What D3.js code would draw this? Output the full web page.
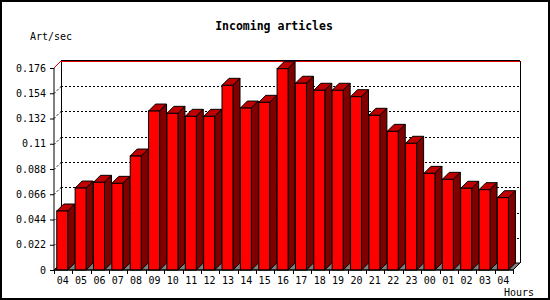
<!DOCTYPE html>
<html>
<head>
<meta charset="utf-8">
<script src="https://cdn.jsdelivr.net/npm/d3@7"></script>
<style>
  body { margin: 0; background: #fff; }
  text { font-family: "DejaVu Sans Mono", monospace; fill: #000; }
</style>
</head>
<body>
<div id="chart"></div>
<script>
// hours shown on the x axis
var hours = ["04","05","06","07","08","09","10","11","12","13","14","15","16",
             "17","18","19","20","21","22","23","00","01","02","03","04"];
// articles per second
var rates = [0.0514, 0.0714, 0.0764, 0.0755, 0.0993, 0.1385, 0.1365, 0.1339, 0.1339,
             0.1609, 0.1411, 0.1461, 0.1754, 0.1627, 0.1566, 0.1566, 0.1510, 0.1348,
             0.1208, 0.1104, 0.0842, 0.0790, 0.0712, 0.0700, 0.0630];
var yTicks = [0, 0.022, 0.044, 0.066, 0.088, 0.11, 0.132, 0.154, 0.176];

var width = 550, height = 300;
var margin = {left: 54, right: 37, top: 68, bottom: 30};
var depth = 7;

var data = hours.map(function(h, i) { return {key: i, label: h, value: rates[i]}; });

var svg = d3.select("#chart").append("svg")
    .attr("width", width)
    .attr("height", height);

// outer frame
svg.append("rect")
    .attr("x", 1).attr("y", 1)
    .attr("width", width - 2).attr("height", height - 2)
    .attr("fill", "#fff").attr("stroke", "#000").attr("stroke-width", 2);

var x = d3.scaleBand()
    .domain(data.map(function(d) { return d.key; }))
    .range([margin.left, width - margin.right]);

var y = d3.scaleLinear()
    .domain([0, 0.176])
    .range([height - margin.bottom, margin.top]);

var x0 = x.range()[0], x1 = x.range()[1], y0 = y(0), yTop = y(0.176);

// back wall edges
svg.append("path")
    .attr("d", "M" + (x0 + depth + 0.5) + "," + (y0 - depth) + "V" + (yTop - depth) +
               "M" + (x1 + depth + 0.5) + "," + (yTop - depth) + "V" + (y0 - depth))
    .attr("stroke", "#000").attr("fill", "none");

// dotted grid on the back wall and left wall
var grid = svg.append("g")
    .attr("stroke", "#000")
    .attr("stroke-dasharray", "2,2")
    .attr("fill", "none");
yTicks.slice(1, -1).forEach(function(t) {
  var yy = Math.round(y(t)) - depth + 0.5;
  grid.append("line")
      .attr("x1", x0 + depth).attr("x2", x1 + depth)
      .attr("y1", yy).attr("y2", yy);
  grid.append("line")
      .attr("x1", x0).attr("x2", x0 + depth)
      .attr("y1", yy + depth).attr("y2", yy);
});

// top line
svg.append("line")
    .attr("x1", x0 + depth).attr("x2", x1 + depth)
    .attr("y1", yTop - depth - 0.5).attr("y2", yTop - depth - 0.5)
    .attr("stroke", "#000");
svg.append("line")
    .attr("x1", x0 + depth).attr("x2", x1 + depth)
    .attr("y1", yTop - depth + 0.5).attr("y2", yTop - depth + 0.5)
    .attr("stroke", "#e00000");
svg.append("line")
    .attr("x1", x0).attr("x2", x0 + depth)
    .attr("y1", yTop).attr("y2", yTop - depth)
    .attr("stroke", "#e00000");

// floor
svg.append("path")
    .attr("d", "M" + x0 + "," + y0 + "L" + x1 + "," + y0 + "L" + (x1 + depth) + "," + (y0 - depth) +
               "L" + (x0 + depth) + "," + (y0 - depth) + "Z")
    .attr("fill", "#808080").attr("stroke", "#000");

// bars
var bw = x.bandwidth() * 0.6;
var bars = svg.append("g").selectAll("g")
    .data(data)
  .enter().append("g");

function bx(d) { return x(d.key) + x.bandwidth() * 0.15; }

bars.append("path") // top
    .attr("d", function(d) {
      var l = bx(d), t = y(d.value);
      return "M" + l + "," + t + "L" + (l + depth) + "," + (t - depth) +
             "L" + (l + bw + depth) + "," + (t - depth) + "L" + (l + bw) + "," + t + "Z";
    })
    .attr("fill", "#c00000").attr("stroke", "#000");

bars.append("path") // side
    .attr("d", function(d) {
      var r = bx(d) + bw, t = y(d.value);
      return "M" + r + "," + t + "L" + (r + depth) + "," + (t - depth) +
             "L" + (r + depth) + "," + (y0 - depth) + "L" + r + "," + y0 + "Z";
    })
    .attr("fill", "#800000").attr("stroke", "#000");

bars.append("rect") // front
    .attr("x", bx)
    .attr("y", function(d) { return y(d.value); })
    .attr("width", bw)
    .attr("height", function(d) { return y0 - y(d.value); })
    .attr("fill", "#ff0000").attr("stroke", "#000");

// Y axis
svg.append("g")
    .attr("transform", "translate(" + x0 + ",0)")
    .call(d3.axisLeft(y).tickValues(yTicks).tickSize(4).tickPadding(4)
            .tickFormat(function(d) { return d === 0 ? "0" : String(d); }))
    .call(function(g) {
      g.select(".domain").attr("d", "M0," + y0 + "V" + yTop);
      g.selectAll("text").attr("font-size", 10).attr("font-family", "DejaVu Sans Mono");
    });

// X axis
svg.append("g")
    .attr("transform", "translate(0," + y0 + ")")
    .call(function(g) {
      g.append("line").attr("x1", x0).attr("x2", x1).attr("stroke", "#000");
      var edges = data.map(function(d) { return x(d.key); }).concat([x1]);
      g.selectAll(".tk").data(edges).enter().append("line")
          .attr("x1", function(d) { return Math.round(d) + 0.5; })
          .attr("x2", function(d) { return Math.round(d) + 0.5; })
          .attr("y1", 0).attr("y2", 4)
          .attr("stroke", "#000");
      g.selectAll(".lb").data(data).enter().append("text")
          .attr("x", function(d) { return x(d.key) + x.bandwidth() / 2 - 0.5; })
          .attr("y", 14)
          .attr("text-anchor", "middle")
          .attr("font-size", 10)
          .text(function(d) { return d.label; });
    });

// titles
svg.append("text")
    .attr("x", 274).attr("y", 30)
    .attr("text-anchor", "middle")
    .attr("font-size", 11.5)
    .attr("font-weight", "bold")
    .text("Incoming articles");

svg.append("text")
    .attr("x", 30).attr("y", 40)
    .attr("font-size", 10)
    .text("Art/sec");

svg.append("text")
    .attr("x", 504).attr("y", 296)
    .attr("font-size", 10)
    .text("Hours");
</script>
</body>
</html>
